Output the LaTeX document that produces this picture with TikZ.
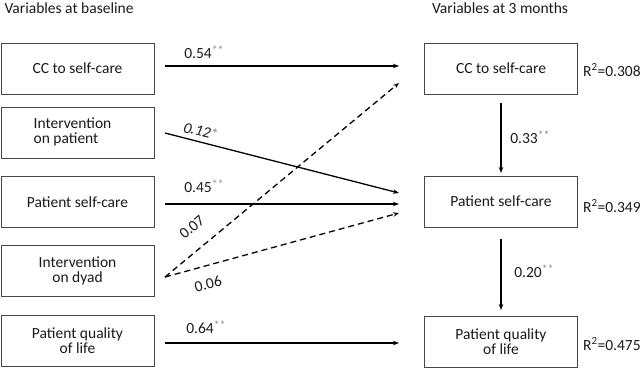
\documentclass[tikz,border=0pt]{standalone}
\usepackage{fontspec}
\setmainfont{Carlito}
\usetikzlibrary{arrows.meta}
\definecolor{boxline}{RGB}{70,70,70}
\definecolor{txt}{RGB}{25,25,25}
\definecolor{star}{RGB}{140,140,140}
\newcommand{\st}[1]{\raisebox{4pt}{\textcolor{star}{\fontsize{12}{12}\selectfont #1}}}
\begin{document}
\begin{tikzpicture}[x=1pt,y=-1pt,
  every node/.style={font=\fontsize{15.5}{17}\selectfont, text=txt},
  varbox/.style={draw=boxline, line width=0.8pt, minimum width=153pt, minimum height=51pt, inner sep=0pt, align=center},
  path/.style={line width=1.3pt, -{Stealth[length=6pt,width=4.5pt]}},
  dpath/.style={path, dash pattern=on 6pt off 4pt}]
\useasboundingbox (0,0) rectangle (644,368);
\node[anchor=west] (t1) at (1,8) {Variables at baseline};
\node (t2) at (500,8) {Variables at 3 months};
\node[varbox] (b1) at (77.5,68.5) {CC to self-care};
\node[varbox] (b2) at (77.5,132.5) {\hspace*{-10pt}\begin{tabular}{@{}l@{}}Intervention\\[-2pt]on patient\end{tabular}};
\node[varbox] (b3) at (77.5,202) {Patient self-care};
\node[varbox] (b4) at (77.5,271) {Intervention\\[-2pt]on dyad};
\node[varbox] (b5) at (77.5,341) {Patient quality\\[-2pt]of life};
\node[varbox] (r1) at (501,68.5) {CC to self-care};
\node[varbox] (r2) at (501,201.5) {Patient self-care};
\node[varbox] (r3) at (501,341.5) {Patient quality\\[-2pt]of life};
\node[anchor=west,inner sep=1pt] (q1) at (582,70) {R\textsuperscript{2}=0.308};
\node[anchor=west,inner sep=1pt] (q2) at (582,206) {R\textsuperscript{2}=0.349};
\node[anchor=west,inner sep=1pt] (q3) at (582,344) {R\textsuperscript{2}=0.475};
\coordinate (s1) at (165,66);
\coordinate (s2) at (165,133);
\coordinate (s3) at (165,204);
\coordinate (s4) at (165,277);
\coordinate (s5) at (165,343);
\coordinate (e1) at (399,66);
\coordinate (e1d) at (399,83);
\coordinate (e2a) at (399,193);
\coordinate (e2) at (399,204);
\coordinate (e2d) at (399,213);
\coordinate (e3) at (399,343);
\draw[path] (s1) -- (e1);
\draw[path] (s2) -- (e2a);
\draw[path] (s3) -- (e2);
\draw[dpath] (s4) -- (e1d);
\draw[dpath] (s4) -- (e2d);
\draw[path] (s5) -- (e3);
\draw[path] (501,103) -- (501,173);
\draw[path] (501,239) -- (501,310);
\node[inner sep=1pt] (l1) at (204,52) {0.54\st{**}};
\node[rotate=-14,inner sep=1pt] (l2) at (201,131) {\textit{0.12}\textcolor{star}{*}};
\node[inner sep=1pt] (l3) at (204,186) {0.45\st{**}};
\node[rotate=40,inner sep=0pt] (l4) at (192,227) {0.07};
\node[rotate=15,inner sep=1pt] (l5) at (208,284) {0.06};
\node[inner sep=1pt] (l6) at (206,327) {0.64\st{**}};
\node[inner sep=1pt] (l7) at (530,137) {0.33\st{**}};
\node[inner sep=1pt] (l8) at (534,271) {0.20\st{**}};
\end{tikzpicture}
\end{document}
